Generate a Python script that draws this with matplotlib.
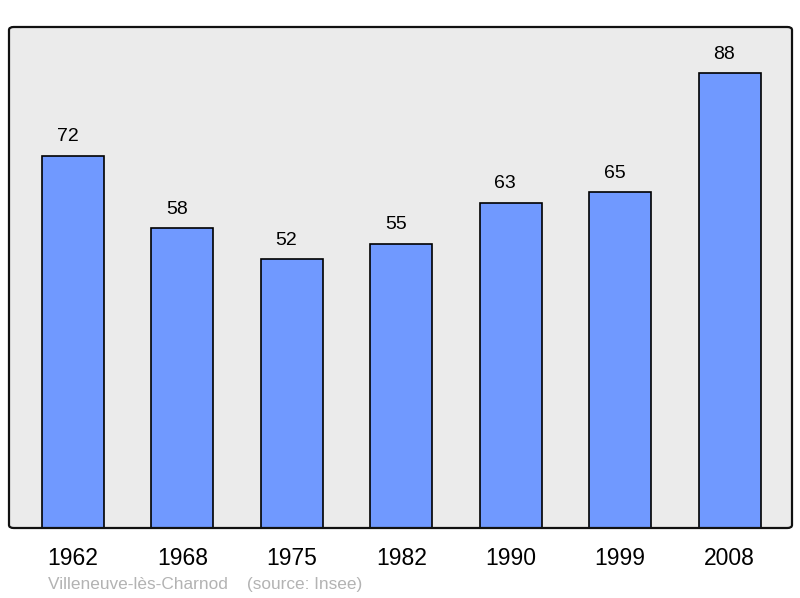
import matplotlib
matplotlib.use("Agg")
import matplotlib.pyplot as plt
from matplotlib.patches import FancyBboxPatch

years = ["1962", "1968", "1975", "1982", "1990", "1999", "2008"]
population = [72, 58, 52, 55, 63, 65, 88]

plt.rcParams['font.family'] = ['Liberation Sans', 'DejaVu Sans']

fig = plt.figure(figsize=(8, 5.98), dpi=100)
ax = fig.add_axes([9/800, 70/598, 783/800, 501/598])
ax.set_facecolor('#ebebeb')

x = list(range(len(years)))
ax.bar(x, population, width=0.567, color='#7099ff', edgecolor='black', linewidth=1.2, zorder=2)
for xi, v in zip(x, population):
    ax.annotate(str(v), (xi, v), xytext=(-4, 10.5), textcoords='offset points',
                ha='center', va='baseline', fontsize=14, color='black')

ax.set_xlim(-0.585, 6.57)
ax.set_ylim(0, 96.97)
ax.set_xticks(x)
ax.set_xticklabels(years, fontsize=16.5)
ax.tick_params(axis='x', length=0, pad=14)
ax.set_yticks([])
for s in ax.spines.values():
    s.set_visible(False)

frame = FancyBboxPatch((0, 0), 1, 1, boxstyle="round,pad=0,rounding_size=0.006",
                       transform=ax.transAxes, fill=False, edgecolor='#111111',
                       linewidth=1.6, zorder=5, clip_on=False)
ax.add_patch(frame)

fig.text(48/800, 1 - 584/598, "Villeneuve-lès-Charnod    (source: Insee)", fontsize=12.4,
         color='#b3b3b3', ha='left', va='center')

fig.savefig("out.png", dpi=100)
